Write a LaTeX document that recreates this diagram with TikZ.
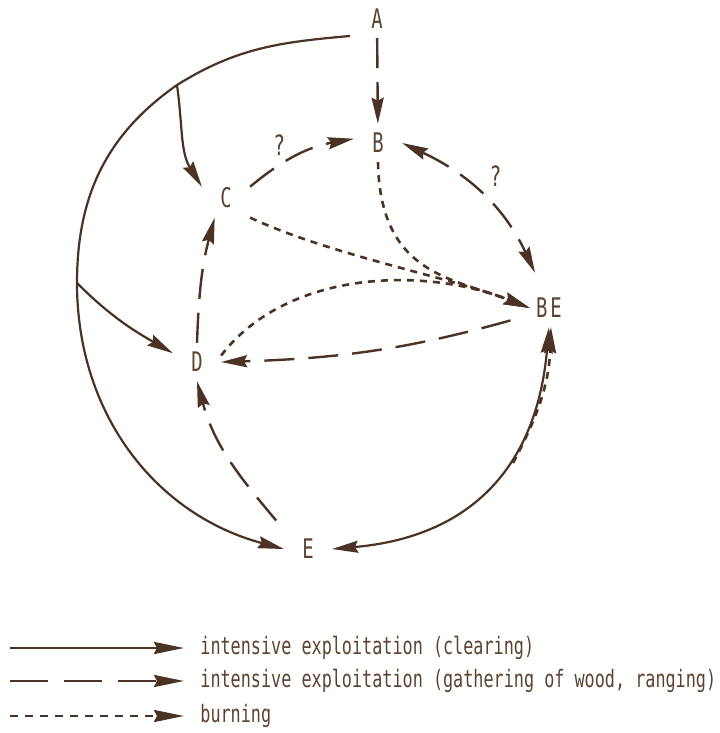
\documentclass[tikz,border=0pt]{standalone}
\usepackage{fontspec}
\newfontfamily\figfont[FakeStretch=0.70]{DejaVu Sans Mono}
\usetikzlibrary{arrows.meta}
\definecolor{ink}{RGB}{74,50,36}
\definecolor{inktext}{RGB}{92,66,48}

\begin{document}
\begin{tikzpicture}[
  x=0.5pt, y=0.5pt,
  >={Stealth[length=13pt,width=6pt,inset=1.5pt]},
  every node/.style={font=\figfont\fontsize{12}{14}\selectfont,text=inktext},
  state/.style={inner xsep=9pt,inner ysep=4.5pt,font=\figfont\fontsize{13.5}{15}\selectfont},
  qmark/.style={font=\figfont\fontsize{14}{16}\selectfont},
  clear/.style={->,draw=ink,line width=1.1pt},
  gather/.style={->,draw=ink,line width=1.2pt,dash pattern=on 15pt off 7pt},
  burn/.style={->,draw=ink,line width=1.3pt,dash pattern=on 3.5pt off 3pt},
  legtext/.style={anchor=west,inner sep=8pt}
]
  \useasboundingbox (0,0) rectangle (719,-733);

  \node[state] (A) at (377,-19) {A};
  \node[state] (B) at (378,-143) {B};
  \node[state] (C) at (226,-198) {C};
  \node[state,inner xsep=3pt] (BE) at (549,-308) {B\kern1.5pt E};
  \node[state] (D) at (197,-362) {D};
  \node[state] (E) at (308,-549) {E};

  \coordinate (clearStart) at (350,-36);
  \coordinate (toC) at (177,-85);
  \coordinate (toD) at (77,-283);
  \coordinate (burnE) at (513,-463);

  \draw[clear] (clearStart) to[out=185,in=32] (toC) to[out=215,in=90] (toD)
    to[out=-90,in=165] (E.west);
  \draw[clear] (toC) to[out=-82,in=122] (C.155);
  \draw[clear] (toD) to[out=-45,in=150] (D.160);
  \draw[clear,<->] (E.east) to[out=5,in=-95,looseness=1.15] (BE.south);

  \draw[gather] (A) -- (B);
  \draw[gather] (C.25) to[out=40,in=190] node[qmark,pos=0.3,above=1pt] (qCB) {?} (B.170);
  \draw[gather,<->] (B.east) to[out=-25,in=115] node[qmark,pos=0.5,above right=0pt] (qBBE) {?}
    ([shift={(-7pt,8pt)}]BE.north);
  \draw[gather] (D.north) to[out=88,in=-105] (C.-120);
  \draw[gather,shorten <=6pt] (E.north west) to[out=130,in=-75] (D.south);
  \draw[gather,shorten <=10pt] (BE.-160) to[bend left=7] (D.east);

  \draw[burn] (D.15) .. controls (285,-272) and (420,-265) .. (BE.west);
  \draw[burn] (C.south east) .. controls (330,-255) and (453,-278) .. (BE.west);
  \draw[burn] (B.south) .. controls (380,-275) and (453,-278) .. (BE.west);
  \draw[burn] (burnE) to[out=62,in=-92] ([xshift=1pt]BE.south);

  \node[legtext] (legClear) at (184,-648) {intensive exploitation (clearing)};
  \node[legtext] (legGather) at (184,-681) {intensive exploitation (gathering of wood, ranging)};
  \node[legtext] (legBurn) at (184,-716) {burning};
  \coordinate (legClearStart) at (10,-648);
  \coordinate (legGatherStart) at (10,-681);
  \coordinate (legBurnStart) at (10,-716);
  \draw[clear,line width=1.4pt,>={Stealth[length=15pt,width=6pt,inset=1.5pt]}] (legClearStart) -- (legClear.west);
  \draw[gather,dash pattern=on 19pt off 8pt,>={Stealth[length=15pt,width=6pt,inset=1.5pt]}] (legGatherStart) -- (legGather.west);
  \draw[burn,dash pattern=on 4pt off 3.5pt,>={Stealth[length=15pt,width=6pt,inset=1.5pt]}] (legBurnStart) -- (legBurn.west);
\end{tikzpicture}
\end{document}
